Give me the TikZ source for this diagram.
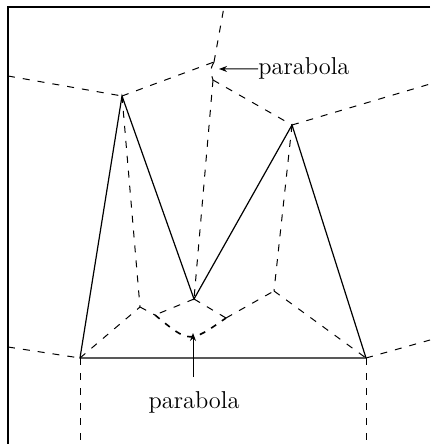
\documentclass[tikz,border=0pt]{standalone}
\usetikzlibrary{arrows.meta}
\begin{document}
\begin{tikzpicture}[x=0.5pt,y=-0.5pt,
  edge/.style={line width=0.6pt},
  vor/.style={line width=0.5pt, dash pattern=on 3.5pt off 4pt},
  para/.style={line width=0.8pt, dash pattern=on 3pt off 3.5pt},
  lab/.style={font=\fontsize{12.2}{14}\selectfont, inner sep=0pt},
  ptr/.style={line width=0.5pt,-{Stealth[length=4pt,width=3pt]}}]
\useasboundingbox (0,0) rectangle (430,444);
% frame
\draw[line width=0.8pt] (430,7) -- (8,7) -- (8,444);
% polygon vertices
\coordinate (A) at (80,358);
\coordinate (B) at (122,96);
\coordinate (C) at (194,299);
\coordinate (D) at (292,125);
\coordinate (E) at (366,358);
% Voronoi / medial axis vertices
\coordinate (T1) at (214,62);
\coordinate (T2) at (213,80);
\coordinate (J1) at (140,307);
\coordinate (J2) at (274,291);
\coordinate (P1) at (155,315);
\coordinate (P2) at (226,318);
% border ends
\coordinate (Lu) at (8,76);
\coordinate (Ll) at (8,347);
\coordinate (Ru) at (430,84);
\coordinate (Rl) at (430,340);
\coordinate (Tp) at (224,7);
\coordinate (Ab) at (80,444);
\coordinate (Eb) at (366,444);
% polygon
\draw[edge] (A) -- (B) -- (C) -- (D) -- (E) -- cycle;
% outer Voronoi
\draw[vor] (Lu) -- (B);
\draw[vor] (B) -- (T1);
\draw[vor] (T1) .. controls (210,70) .. (T2);
\draw[vor] (T2) -- (D);
\draw[vor] (D) -- (Ru);
\draw[vor] (T1) -- (Tp);
\draw[vor] (T2) -- (C);
\draw[vor] (Ll) -- (A);
\draw[vor] (E) -- (Rl);
\draw[vor] (A) -- (Ab);
\draw[vor] (E) -- (Eb);
% medial axis
\draw[vor] (B) -- (J1);
\draw[vor] (D) -- (J2);
\draw[vor] (A) -- (J1);
\draw[vor] (J1) -- (P1);
\draw[vor] (C) -- (P1);
\draw[vor] (C) -- (P2);
\draw[vor] (P2) -- (J2);
\draw[vor] (J2) -- (E);
\draw[para] (P1) .. controls (189.5,343.5) .. (P2);
% labels
\node[lab, anchor=base west] (lab1) at (258,75) {parabola};
\coordinate (tip1) at (219,69);
\draw[ptr] (lab1.west) -- (tip1);
\node[lab, anchor=base] (lab2) at (194,408) {parabola};
\coordinate (tail2) at (193,377);
\coordinate (tip2) at (193,333);
\draw[ptr] (tail2) -- (tip2);
\end{tikzpicture}
\end{document}
